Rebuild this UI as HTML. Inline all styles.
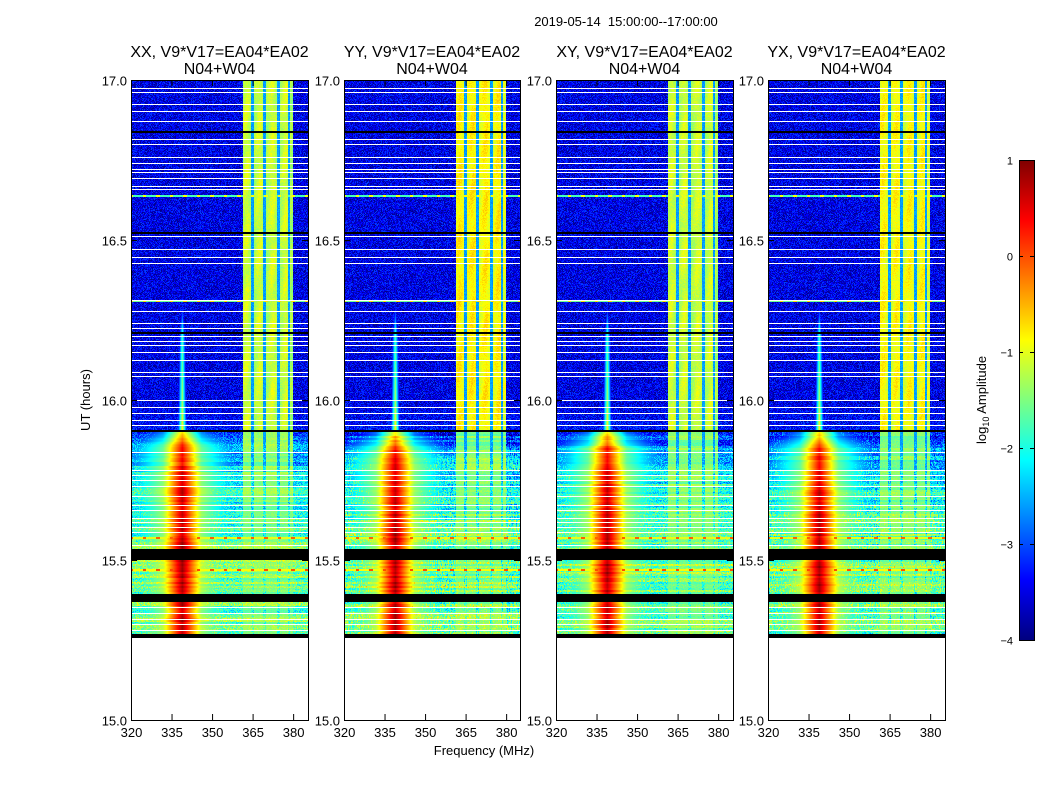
<!DOCTYPE html>
<html><head><meta charset="utf-8">
<style>
body{margin:0;background:#fff;width:1050px;height:800px;overflow:hidden;position:relative;font-family:"Liberation Sans",sans-serif}
canvas{position:absolute;image-rendering:pixelated}
svg{position:absolute;left:0;top:0}
</style></head><body>
<canvas id="c0" width="177" height="640" style="left:131px;top:80px"></canvas>
<canvas id="c1" width="176" height="640" style="left:344px;top:80px"></canvas>
<canvas id="c2" width="177" height="640" style="left:556px;top:80px"></canvas>
<canvas id="c3" width="177" height="640" style="left:768px;top:80px"></canvas>
<canvas id="cb" width="15" height="480" style="left:1019px;top:160px"></canvas>
<svg id="ov" width="1050" height="800"></svg>
<script>
// ---- data ----
const panelTitles = ["XX, V9*V17=EA04*EA02","YY, V9*V17=EA04*EA02","XY, V9*V17=EA04*EA02","YX, V9*V17=EA04*EA02"];
const panelBandLevel = [-1.2,-0.9,-1.2,-0.95];
const panelLowGain = [0,0.35,0,0.3];
const xTicks = [320,335,350,365,380];
const yTicks = [15.0,15.5,16.0,16.5,17.0];
const cbTicks = [1,0,-1,-2,-3,-4];
const whiteTimes = [16.975,16.963,16.925,16.903,16.872,16.816,16.8,16.759,16.741,16.722,16.713,16.694,16.669,16.659,16.513,16.472,16.447,16.428,16.313,16.278,16.241,16.225,16.2,16.184,16.172,16.15,16.125,16.088,16.075,16.0,15.978,15.959,15.938,15.922,15.838,15.781,15.766,15.75,15.731,15.7,15.672,15.656,15.631,15.619,15.603,15.588,15.547,15.353,15.334,15.316,15.3,15.281];
const blackTimes = [16.841,16.525,16.213,15.906];
const blackRanges = [[15.5,15.534],[15.369,15.394],[15.256,15.269]];
const dataStart = 15.256;
const bgTimes =  [15.26,15.5,15.6,15.75,15.85,15.9,16.0,17.0];
const bgLevels = [-1.7,-1.6,-1.8,-2.2,-2.7,-3.3,-3.5,-3.5];
const spikeTimes =  [15.26,15.5,15.75,15.85,15.9,16.0,16.2,16.3,17.0];
const spikeLevels = [0.7,0.8,0.6,0.3,-0.8,-1.3,-1.8,-3.5,-3.5];
const spikeFreq = 339;
const bandRange = [361.5,380];
const bandDarkFreqs = [365,369.5,374.5,378.5];
const rfiTimes = [15.57,15.47,16.31,16.64];
const rfiLevels = [-1.0,-0.9,-1.6,-1.8];
// ---- scales ----
const F0=320,F1=385.5,T0=15,T1=17,PW=177,PH=640;
const fx=f=>(f-F0)/(F1-F0)*PW;
const ty=t=>(T1-t)/(T1-T0)*PH;
function interp(xs,ys,x){if(x<=xs[0])return ys[0];for(let i=1;i<xs.length;i++)if(x<=xs[i]){const r=(x-xs[i-1])/(xs[i]-xs[i-1]);return ys[i-1]+r*(ys[i]-ys[i-1]);}return ys[ys.length-1];}
function jet(v){const x=Math.max(0,Math.min(1,v));const c=q=>Math.max(0,Math.min(1,1.5-Math.abs(4*x-q)));return [c(3)*255|0,c(2)*255|0,c(1)*255|0];}
function hash(a,b){let h=(a*374761393+b*668265263)|0;h=(h^(h>>>13))*1274126177|0;return ((h^(h>>>16))>>>0)/4294967296;}
const V0=-4,V1=1;
for(let p=0;p<4;p++){
  const cv=document.getElementById('c'+p),ctx=cv.getContext('2d'),W=cv.width;
  const img=ctx.createImageData(W,PH);
  const whiteRows=new Set();whiteTimes.forEach(t=>{const r=Math.round(ty(t));whiteRows.add(r);});
  const blackRows=new Set();blackTimes.forEach(t=>{const r=Math.round(ty(t));blackRows.add(r);blackRows.add(r+1);});
  for(let y=0;y<PH;y++){
    const t=T1-(y+0.5)/PH*(T1-T0);
    const rowJit=(hash(p*7+3,y>>1)-0.5);
    for(let x=0;x<W;x++){
      const i=(y*W+x)*4;const f=F0+(x+0.5)/PW*(F1-F0);
      let col;
      if(t<dataStart||whiteRows.has(y)){col=[255,255,255];}
      else if(blackRows.has(y)||blackRanges.some(r=>t>=r[0]&&t<=r[1])){col=[0,0,0];}
      else{
        const n=hash(x+p*1000,y);
        let v=interp(bgTimes,bgLevels,t)+(n-0.5)*0.9;
        if(t<15.9){ v+=rowJit*0.8; v+=panelLowGain[p]*(hash(x,y>>2)-0.5)*2; }
        if(f>=bandRange[0]&&f<=bandRange[1]){
          let b = t>=15.9 ? panelBandLevel[p]+0.12*Math.sin((f-bandRange[0])*1.3)+0.1*Math.sin(y*0.1+f)
                          : -1.45+rowJit*0.5;
          for(const d of bandDarkFreqs) if(Math.abs(f-d)<0.5) b=-2.6;
          v=Math.max(v,b+(n-0.5)*0.25);
        }
        const sp=interp(spikeTimes,spikeLevels,t)+(t<15.9?rowJit*0.4:0);
        const wid=t<15.9?3.2:0.6;
        const df=Math.abs(f-spikeFreq);
        v=Math.max(v,sp-df/wid*0.9, t<15.9? sp-1.3-df*0.1:-9);
        for(let k=0;k<rfiTimes.length;k++){
          if(Math.abs(ty(rfiTimes[k])-y)<1){v=Math.max(v,rfiLevels[k]+((Math.round(f*0.8)%4===0)?0.9:0));}
        }
        col=jet((v-V0)/(V1-V0));
      }
      img.data[i]=col[0];img.data[i+1]=col[1];img.data[i+2]=col[2];img.data[i+3]=255;
    }
  }
  ctx.putImageData(img,0,0);
}
// colorbar
{const ctx=document.getElementById('cb').getContext('2d');for(let y=0;y<480;y++){const c=jet(1-(y+0.5)/480);ctx.fillStyle=`rgb(${c})`;ctx.fillRect(0,y,15,1);}}
// ---- overlay ----
const svg=document.getElementById('ov');const NS='http://www.w3.org/2000/svg';
function el(tag,attrs,txt){const e=document.createElementNS(NS,tag);for(const k in attrs)e.setAttribute(k,attrs[k]);if(txt!==undefined)e.textContent=txt;svg.appendChild(e);return e;}
const lefts=[131,344,556,768];const widths=[177,176,177,177];
lefts.forEach((L,p)=>{
  const W=widths[p];
  const fr=el('rect',{x:L+0.5,y:80.5,width:W,height:640,fill:'none',stroke:'#000','stroke-width':1});
  
  
  xTicks.forEach(v=>{const X=L+fx(v)+0.5;
    const tk=el('path',{d:`M${X},720V714M${X},80V86`,stroke:'#000'});
    
    
    const lb=el('text',{x:X,y:737,'text-anchor':'middle','font-size':13},String(v));
    
    
  });
  yTicks.forEach(v=>{const Y=80+ty(v)+0.5;
    const tk=el('path',{d:`M${L},${Y}h6M${L+W},${Y}h-6`,stroke:'#000'});
    
    
    const lb=el('text',{x:L-4,y:Y+5,'text-anchor':'end','font-size':13},v.toFixed(1));
    
    
  });
  const t1=el('text',{x:L+W/2,y:57,'text-anchor':'middle','font-size':16},panelTitles[p]);
  
  
  const t2=el('text',{x:L+W/2,y:74,'text-anchor':'middle','font-size':16},'N04+W04');
  
  
});
const cbf=el('rect',{x:1019.5,y:160.5,width:15,height:480,fill:'none',stroke:'#000'});


cbTicks.forEach(v=>{const Y=160+(1-v)*96+0.5;
  const tk=el('path',{d:`M1019,${Y}h4M1034,${Y}h-4`,stroke:'#000'});
  
  
  const lb=el('text',{x:1013,y:Y+4,'text-anchor':'end','font-size':11},v<0?'\u2212'+(-v):String(v));
  
  
});
const st=el('text',{x:626,y:26,'text-anchor':'middle','font-size':13},'2019-05-14  15:00:00--17:00:00');
st.setAttribute('xml:space','preserve');st.style.whiteSpace='pre';
const xl=el('text',{x:484,y:755,'text-anchor':'middle','font-size':13},'Frequency (MHz)');


const yl=el('text',{x:0,y:0,'text-anchor':'middle','font-size':13,transform:'translate(90,400) rotate(-90)'},'UT (hours)');


const cl=el('text',{x:0,y:0,'text-anchor':'middle','font-size':13,transform:'translate(986,400) rotate(-90)'});


cl.innerHTML='log<tspan font-size="9" dy="3">10</tspan><tspan dy="-3"> Amplitude</tspan>';
</script>
</body></html>
